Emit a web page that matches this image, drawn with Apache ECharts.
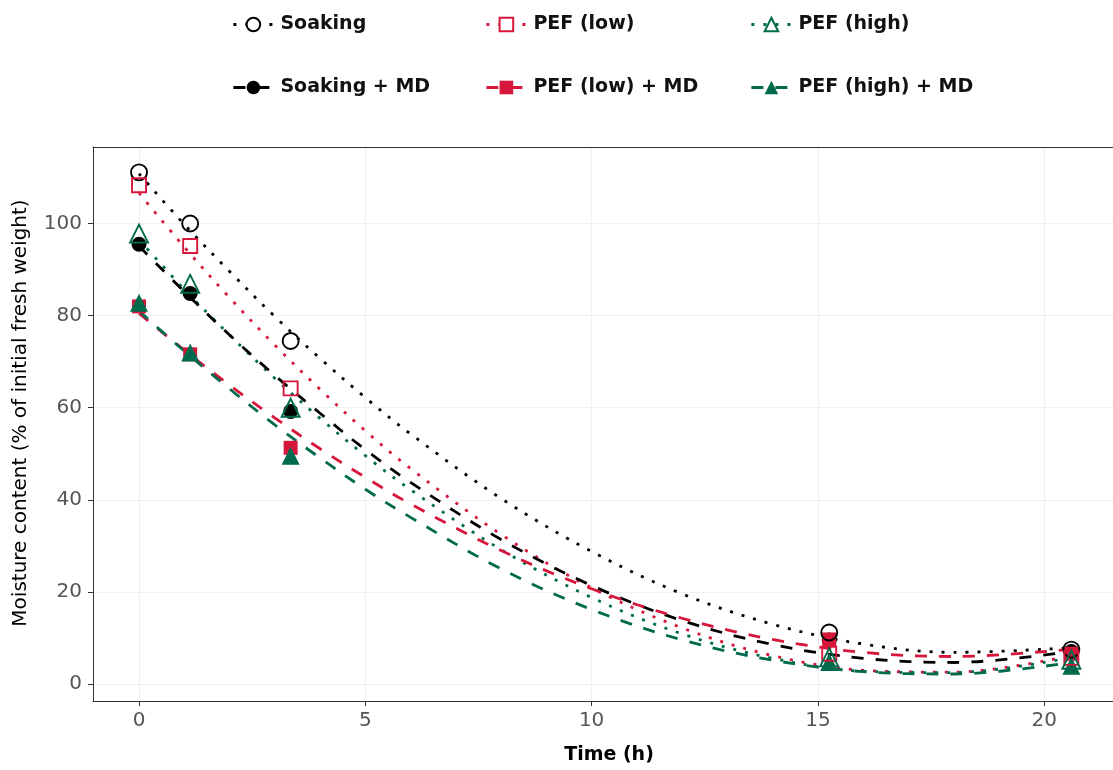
<!DOCTYPE html>
<html>
<head>
<meta charset="utf-8">
<script src="https://cdn.jsdelivr.net/npm/echarts@6/dist/echarts.min.js"></script>
<style>
  html, body { margin: 0; padding: 0; background: #fff; }
  #chart { width: 1113px; height: 770px; }
</style>
</head>
<body>
<div id="chart"></div>
<script>
// Sampling times (h) of the measured moisture contents
const hours = [0, 1.13, 3.35, 15.25, 20.6];

// Measured moisture content (% of initial fresh weight)
const soaking   = [111.1, 100.0, 74.5, 11.2, 7.5];
const pefLow    = [108.3, 95.1, 64.2, 6.6, 5.7];
const pefHigh   = [97.8, 86.9, 60.0, 5.8, 5.3];
const soakingMD = [95.5, 84.8, 59.2, 9.6, 7.1];
const pefLowMD  = [82.0, 71.6, 51.3, 9.7, 6.6];
const pefHighMD = [82.8, 72.0, 49.6, 4.8, 4.0];

// Fitted drying curves, sampled along the time axis
const fitHours = [0, 1, 2, 3, 4, 5, 6, 8, 10, 12, 14, 16, 18, 20.6];
const soakingFit   = [110.8, 99.8, 89.6, 79.8, 70.7, 62.2, 54.3, 40.3, 28.8, 19.6, 13.0, 8.7, 6.9, 7.9];
const pefLowFit    = [106.6, 94.9, 83.9, 73.6, 64.0, 55.0, 46.8, 32.5, 20.9, 12.2, 6.2, 3.0, 2.6, 6.2];
const pefHighFit   = [96.5, 85.7, 75.8, 66.4, 57.7, 49.6, 42.2, 29.2, 18.8, 10.9, 5.6, 2.8, 2.5, 5.8];
const soakingMDFit = [95.1, 85.2, 75.8, 67.0, 58.8, 50.9, 43.8, 31.4, 21.4, 13.8, 8.6, 5.6, 4.7, 7.1];
const pefLowMDFit  = [80.5, 72.5, 64.9, 57.8, 51.1, 44.9, 39.1, 29.0, 20.7, 14.3, 9.7, 6.9, 6.0, 7.6];
const pefHighMDFit = [81.0, 72.3, 64.1, 56.3, 49.1, 42.3, 36.2, 25.0, 16.2, 9.6, 5.2, 2.7, 2.2, 4.7];

// Axis ticks
const xTicks = [0, 5, 10, 15, 20];
const yTicks = [0, 20, 40, 60, 80, 100];

const BLACK = '#000000';
const RED = '#D7163B';
const GREEN = '#006B4C';
const FONT = '"DejaVu Sans", "Open Sans", sans-serif';
const DOTTED = [3, 9];
const DASHED = [12, 12];

const treatments = [
  { name: 'Soaking',         pts: soaking,   fit: soakingFit,   color: BLACK, open: true,  symbol: 'circle',   size: 16, dash: DOTTED },
  { name: 'PEF (low)',       pts: pefLow,    fit: pefLowFit,    color: RED,   open: true,  symbol: 'rect',     size: 14, dash: DOTTED },
  { name: 'PEF (high)',      pts: pefHigh,   fit: pefHighFit,   color: GREEN, open: true,  symbol: 'triangle', size: 18, dash: DOTTED },
  { name: 'Soaking + MD',    pts: soakingMD, fit: soakingMDFit, color: BLACK, open: false, symbol: 'circle',   size: 15, dash: DASHED },
  { name: 'PEF (low) + MD',  pts: pefLowMD,  fit: pefLowMDFit,  color: RED,   open: false, symbol: 'rect',     size: 14, dash: DASHED },
  { name: 'PEF (high) + MD', pts: pefHighMD, fit: pefHighMDFit, color: GREEN, open: false, symbol: 'triangle', size: 18, dash: DASHED }
];

const zip = (xs, ys) => xs.map((x, i) => [x, ys[i]]);

const series = [];
// fitted curves first so each legend entry takes its icon from the curve
treatments.forEach(t => {
  series.push({
    type: 'line',
    name: t.name,
    data: zip(fitHours, t.fit),
    smooth: 0.35,
    showSymbol: false,
    symbol: t.open ? 'empty' + t.symbol.charAt(0).toUpperCase() + t.symbol.slice(1) : t.symbol,
    color: t.color,
    lineStyle: { color: t.color, width: 2.8, type: t.dash, cap: 'butt' },
    emphasis: { disabled: true },
    z: 2
  });
});
// measured points, filled markers beneath open markers
[3, 4, 5, 0, 1, 2].forEach(i => {
  const t = treatments[i];
  series.push({
    type: 'scatter',
    name: t.name,
    data: zip(hours, t.pts),
    symbol: t.symbol,
    symbolSize: t.size,
    itemStyle: t.open
      ? { color: 'rgba(255,255,255,0)', borderColor: t.color, borderWidth: 1.9, opacity: 1 }
      : { color: t.color, borderColor: t.color, borderWidth: 0, opacity: 1 },
    emphasis: { disabled: true },
    z: 3
  });
});

// one legend block per treatment, laid out in two rows of three
const legendPos = [
  { left: 232, top: 15 }, { left: 485, top: 15 }, { left: 750, top: 15 },
  { left: 232, top: 78 }, { left: 485, top: 78 }, { left: 750, top: 78 }
];
const legends = treatments.map((t, i) => ({
  data: [t.name],
  left: legendPos[i].left,
  top: legendPos[i].top,
  padding: 0,
  itemWidth: 40,
  itemHeight: 17,
  selectedMode: false,
  lineStyle: { width: 2.8 },
  textStyle: { fontFamily: FONT, fontSize: 19, fontWeight: 'bold', color: '#111', padding: [0, 0, 0, 2] }
}));

const axisLineStyle = { show: true, onZero: false, lineStyle: { color: '#333333', width: 1 } };

const chart = echarts.init(document.getElementById('chart'), null, { renderer: 'canvas' });
chart.setOption({
  backgroundColor: '#ffffff',
  animation: false,
  legend: legends,
  grid: { left: 93, top: 147, right: 0, bottom: 61, show: false },
  xAxis: [{
    type: 'value',
    min: -1.017,
    max: 21.52,
    name: 'Time (h)',
    nameLocation: 'middle',
    nameGap: 45,
    nameTextStyle: { fontFamily: FONT, fontSize: 19, fontWeight: 'bold', color: '#000', padding: [0, 0, 0, 12] },
    axisLine: axisLineStyle,
    axisTick: { show: true, length: 5, lineStyle: { color: '#333333' }, customValues: xTicks },
    axisLabel: { fontFamily: FONT, fontSize: 20, color: '#555555', margin: 10, customValues: xTicks },
    splitLine: { show: true, lineStyle: { color: '#f0f0f0', width: 1.2 } }
  }, {
    // top edge of the panel
    type: 'value',
    position: 'top',
    min: -1.017,
    max: 21.52,
    axisLine: axisLineStyle,
    axisTick: { show: false },
    axisLabel: { show: false },
    splitLine: { show: false }
  }],
  yAxis: {
    type: 'value',
    min: -3.66,
    max: 116.6,
    name: 'Moisture content (% of initial fresh weight)',
    nameLocation: 'middle',
    nameGap: 62,
    nameTextStyle: { fontFamily: FONT, fontSize: 20, color: '#000', padding: [0, 0, 0, 22] },
    axisLine: axisLineStyle,
    axisTick: { show: true, length: 5, lineStyle: { color: '#333333' }, customValues: yTicks },
    axisLabel: { fontFamily: FONT, fontSize: 20, color: '#555555', margin: 11, customValues: yTicks },
    splitLine: { show: true, lineStyle: { color: '#f0f0f0', width: 1.2 } }
  },
  series: series
});
</script>
</body>
</html>
